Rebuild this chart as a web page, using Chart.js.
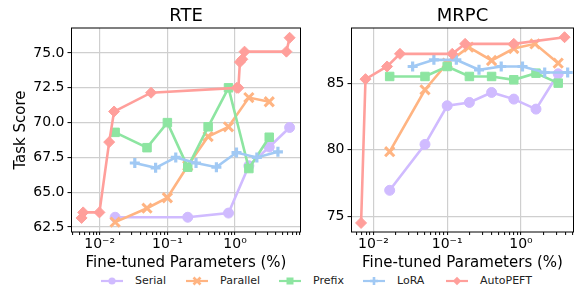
<!DOCTYPE html>
<html>
<head>
<meta charset="utf-8">
<script src="https://cdn.jsdelivr.net/npm/chart.js@4.4.1/dist/chart.umd.min.js"></script>
<style>
  html, body { margin: 0; padding: 0; background: #fff; }
  #wrap { position: relative; width: 583px; height: 289px; overflow: hidden; font-family: 'DejaVu Sans', sans-serif; }
  #rte { position: absolute; left: 0; top: 0; }
  #mrpc { position: absolute; left: 310px; top: 0; }
  .legend { position: absolute; top: 274px; left: 0; width: 583px; height: 15px; }
  .legend .item { position: absolute; top: 0; display: flex; align-items: center; font-size: 11px; color: #222; }
  .legend svg { margin-right: 12px; }
</style>
</head>
<body>
<div id="wrap">
  <canvas id="rte" width="310" height="272"></canvas>
  <canvas id="mrpc" width="273" height="272"></canvas>
  <div class="legend" id="legend"></div>
</div>
<script>
// ---- data ----
const methods = ['Serial', 'Parallel', 'Prefix', 'LoRA', 'AutoPEFT'];
const colors = ['#d0bbff', '#ffb482', '#8de5a1', '#a1c9f4', '#ff9f9b'];

// RTE
const rteSerialX = [0.0169, 0.2, 0.8, 1.6, 3.2, 6.4];
const rteSerialY = [63.2, 63.2, 63.5, 66.9, 68.25, 69.65];
const rteParallelX = [0.0169, 0.05, 0.1, 0.2, 0.4, 0.8, 1.6, 3.2];
const rteParallelY = [62.85, 63.85, 64.6, 66.9, 69.0, 69.7, 71.8, 71.5];
const rtePrefixX = [0.0169, 0.05, 0.1, 0.2, 0.4, 0.8, 1.6, 3.2];
const rtePrefixY = [69.3, 68.2, 70.0, 66.8, 69.7, 72.5, 66.7, 68.95];
const rteLoraX = [0.033, 0.067, 0.133, 0.265, 0.53, 1.05, 2.1, 4.3];
const rteLoraY = [67.1, 66.75, 67.5, 67.1, 66.8, 67.85, 67.5, 67.9];
const rteAutoX = [0.0054, 0.0057, 0.0099, 0.0138, 0.0163, 0.0574, 1.06, 1.12, 1.18, 1.28, 1.38, 5.74, 6.4];
const rteAutoY = [63.15, 63.55, 63.55, 68.6, 70.8, 72.15, 72.5, 72.5, 74.35, 74.55, 75.1, 75.1, 76.1];

// MRPC
const mrpcSerialX = [0.0166, 0.05, 0.1, 0.2, 0.4, 0.8, 1.6, 3.2];
const mrpcSerialY = [76.95, 80.4, 83.3, 83.55, 84.3, 83.8, 83.05, 85.7];
const mrpcParallelX = [0.0166, 0.05, 0.1, 0.195, 0.4, 0.8, 1.55, 3.2];
const mrpcParallelY = [79.85, 84.5, 86.5, 87.7, 86.7, 87.6, 87.95, 86.5];
const mrpcPrefixX = [0.0166, 0.05, 0.1, 0.2, 0.4, 0.8, 1.6, 3.2];
const mrpcPrefixY = [85.5, 85.5, 86.25, 85.5, 85.5, 85.25, 85.75, 85.0];
const mrpcLoraX = [0.034, 0.066, 0.133, 0.27, 0.54, 1.05, 2.1, 4.3];
const mrpcLoraY = [86.25, 86.75, 86.75, 86.0, 86.25, 86.25, 85.8, 85.8];
const mrpcAutoX = [0.0068, 0.0078, 0.0153, 0.0229, 0.117, 0.175, 0.8, 3.9];
const mrpcAutoY = [74.5, 85.3, 86.25, 87.2, 87.2, 87.95, 87.95, 88.45];

// axis ranges / ticks
const rteXRange = [0.00383, 9.27];
const rteYRange = [62.14, 76.8];
const rteYStep = 2.5;
const mrpcXRange = [0.00504, 5.16];
const mrpcYRange = [73.82, 89.14];
const mrpcYStep = 5;

Chart.defaults.font.family = "'DejaVu Sans', sans-serif";
Chart.defaults.color = '#000';

const gridColor = '#cfcfcf';
const pointStyles = ['circle', 'crossRot', 'rect', 'cross', 'rectRot'];
const pointRadius = [5, 6.5, 6, 5, 5.5];
const pointBorder = [1, 3, 1, 3.2, 1];

function pairs(xs, ys) {
  return xs.map(function (x, i) { return { x: x, y: ys[i] }; });
}

function isDecade(v) {
  const l = Math.log10(v);
  return Math.abs(l - Math.round(l)) < 1e-9;
}

function supText(n) {
  const map = { '-': '\u207b', '0': '\u2070', '1': '\u00b9', '2': '\u00b2', '3': '\u00b3' };
  return String(n).split('').map(function (c) { return map[c] || c; }).join('');
}

// black frame on all four sides + panel title
const framePlugin = {
  id: 'frame',
  afterDatasetsDraw: function (chart) {
    const a = chart.chartArea;
    const ctx = chart.ctx;
    ctx.save();
    ctx.strokeStyle = '#000';
    ctx.lineWidth = 1;
    ctx.strokeRect(a.left, a.top, a.right - a.left, a.bottom - a.top);
    ctx.restore();
  },
  afterDraw: function (chart, args, opts) {
    const a = chart.chartArea;
    const ctx = chart.ctx;
    ctx.save();
    ctx.fillStyle = '#000';
    ctx.font = "18px 'DejaVu Sans'";
    ctx.textAlign = 'center';
    ctx.textBaseline = 'middle';
    ctx.fillText(opts.text, (a.left + a.right) / 2, 16);
    ctx.restore();
  }
};

function makePanel(id, title, series, xRange, yRange, yStep, yDigits, yAxisWidth, padRight, showYTitle) {
  const datasets = series.map(function (s, i) {
    return {
      label: methods[i],
      data: pairs(s[0], s[1]),
      borderColor: colors[i],
      backgroundColor: colors[i],
      borderWidth: 2.6,
      pointStyle: pointStyles[i],
      pointRadius: pointRadius[i],
      pointBorderWidth: pointBorder[i],
      pointBackgroundColor: colors[i],
      pointBorderColor: colors[i],
      tension: 0,
      order: methods.length - i
    };
  });

  return new Chart(document.getElementById(id), {
    type: 'line',
    data: { datasets: datasets },
    plugins: [framePlugin],
    options: {
      responsive: false,
      animation: false,
      layout: { padding: { top: 28, right: padRight, left: 0, bottom: 0 } },
      plugins: {
        legend: { display: false },
        tooltip: { enabled: false },
        frame: { text: title }
      },
      scales: {
        x: {
          type: 'logarithmic',
          min: xRange[0],
          max: xRange[1],
          border: { display: false },
          afterBuildTicks: function (scale) {
            const ticks = [];
            for (let e = -3; e <= 1; e++) {
              for (let m = 1; m <= 9; m++) {
                const v = m * Math.pow(10, e);
                if (v >= scale.min && v <= scale.max) ticks.push({ value: v, major: m === 1 });
              }
            }
            scale.ticks = ticks;
          },
          afterFit: function (scale) { scale.height = 40; },
          grid: {
            color: function (ctx) { return ctx.tick && isDecade(ctx.tick.value) ? gridColor : 'rgba(0,0,0,0)'; },
            lineWidth: 1.2,
            tickColor: '#000',
            tickLength: 3,
            tickWidth: 1
          },
          ticks: {
            autoSkip: false,
            maxRotation: 0,
            padding: 1,
            font: { size: 14 },
            callback: function (value) {
              if (!isDecade(value)) return '';
              return '10' + supText(Math.round(Math.log10(value)));
            }
          },
          title: {
            display: true,
            text: 'Fine-tuned Parameters (%)',
            font: { size: 15 },
            padding: { top: 0, bottom: 0 }
          }
        },
        y: {
          min: yRange[0],
          max: yRange[1],
          border: { display: false },
          afterFit: function (scale) { scale.width = yAxisWidth; },
          grid: {
            color: gridColor,
            lineWidth: 1.2,
            tickColor: '#000',
            tickLength: 4,
            tickWidth: 1
          },
          ticks: {
            stepSize: yStep,
            includeBounds: false,
            padding: 3,
            font: { size: 14 },
            callback: function (v) { return Number(v).toFixed(yDigits); }
          },
          title: {
            display: showYTitle,
            text: 'Task Score',
            font: { size: 15 },
            padding: { top: 12, bottom: 0 }
          }
        }
      }
    }
  });
}

makePanel('rte', 'RTE', [
  [rteSerialX, rteSerialY],
  [rteParallelX, rteParallelY],
  [rtePrefixX, rtePrefixY],
  [rteLoraX, rteLoraY],
  [rteAutoX, rteAutoY]
], rteXRange, rteYRange, rteYStep, 1, 71.5, 5, true);

makePanel('mrpc', 'MRPC', [
  [mrpcSerialX, mrpcSerialY],
  [mrpcParallelX, mrpcParallelY],
  [mrpcPrefixX, mrpcPrefixY],
  [mrpcLoraX, mrpcLoraY],
  [mrpcAutoX, mrpcAutoY]
], mrpcXRange, mrpcYRange, mrpcYStep, 0, 41.5, 2, false);

// legend: line + marker handle, like the matplotlib one
function markerSvg(i) {
  const c = colors[i];
  let m = '';
  if (i === 0) m = '<circle cx="11" cy="5" r="3.6" fill="' + c + '"/>';
  if (i === 1) m = '<path d="M7.5 1.5 L14.5 8.5 M14.5 1.5 L7.5 8.5" stroke="' + c + '" stroke-width="2.6"/>';
  if (i === 2) m = '<rect x="7.5" y="1.5" width="7" height="7" fill="' + c + '"/>';
  if (i === 3) m = '<path d="M11 1 L11 9 M7 5 L15 5" stroke="' + c + '" stroke-width="2.6"/>';
  if (i === 4) m = '<path d="M11 0.8 L15.2 5 L11 9.2 L6.8 5 Z" fill="' + c + '"/>';
  return '<svg width="22" height="10"><line x1="0" y1="5" x2="22" y2="5" stroke="' + c + '" stroke-width="2.2"/>' + m + '</svg>';
}

const legendLeft = [101, 186, 279, 363, 446];
const legend = document.getElementById('legend');
methods.forEach(function (name, i) {
  const item = document.createElement('div');
  item.className = 'item';
  item.style.left = legendLeft[i] + 'px';
  item.innerHTML = markerSvg(i) + '<span>' + name + '</span>';
  legend.appendChild(item);
});
</script>
</body>
</html>
